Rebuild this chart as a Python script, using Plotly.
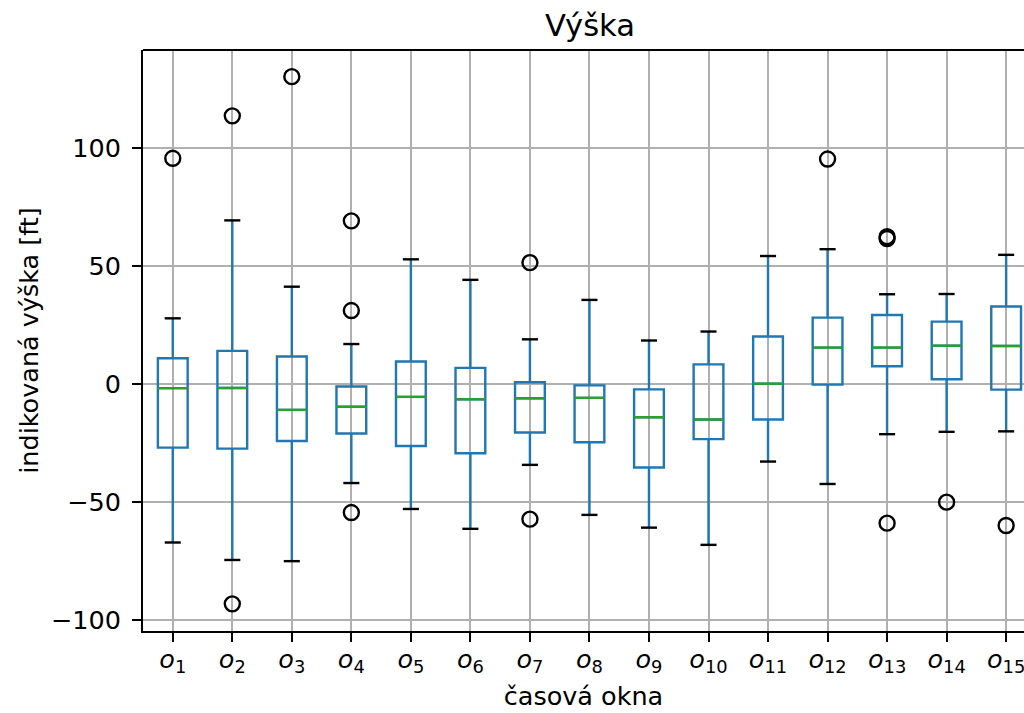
import plotly.graph_objects as go

# ---- data ----
windows = ["o1", "o2", "o3", "o4", "o5", "o6", "o7", "o8", "o9", "o10", "o11", "o12", "o13", "o14", "o15"]
tick_labels = ["<i>o</i><sub>%d</sub>" % i for i in range(1, 16)]
q1 = [-27.0, -27.4, -24.2, -21.0, -26.3, -29.4, -20.6, -24.7, -35.4, -23.4, -15.1, -0.3, 7.5, 2.0, -2.4]
median = [-1.8, -1.7, -11.0, -9.7, -5.5, -6.5, -6.1, -5.9, -14.1, -15.1, 0.1, 15.4, 15.4, 16.2, 16.1]
q3 = [10.9, 14.0, 11.6, -1.1, 9.5, 6.8, 0.7, -0.6, -2.3, 8.3, 20.1, 28.1, 29.2, 26.4, 32.8]
lower_whisker = [-67.2, -74.6, -75.1, -42.0, -53.0, -61.4, -34.3, -55.5, -60.9, -68.2, -32.9, -42.4, -21.3, -20.3, -20.1]
upper_whisker = [27.8, 69.3, 41.2, 16.9, 52.8, 44.1, 18.9, 35.6, 18.4, 22.2, 54.2, 57.1, 38.0, 38.1, 54.7]
outliers = {
    "o1": [95.6],
    "o2": [113.6, -93.2],
    "o3": [130.2],
    "o4": [69.1, 31.1, -54.5],
    "o7": [51.4, -57.3],
    "o12": [95.3],
    "o13": [61.6, 62.4, -59.0],
    "o14": [-50.1],
    "o15": [-60.0],
}
y_ticks = [-100, -50, 0, 50, 100]
y_tick_labels = ["\u2212100", "\u221250", "0", "50", "100"]

BLUE = "#1f77b4"
GREEN = "#2ca02c"
BOX_W = 0.5
CAP_W = 0.27
LW = 2.4

pos = list(range(1, len(windows) + 1))

fig = go.Figure()

fig.add_trace(go.Box(
    x=pos, q1=q1, median=median, q3=q3,
    lowerfence=lower_whisker, upperfence=upper_whisker,
    width=BOX_W, whiskerwidth=0,
    fillcolor="rgba(0,0,0,0)",
    line=dict(color=BLUE, width=LW),
    boxpoints=False, showlegend=False, hoverinfo="skip",
))

# medians (green)
mx, my = [], []
for p, m in zip(pos, median):
    mx += [p - BOX_W / 2, p + BOX_W / 2, None]
    my += [m, m, None]
fig.add_trace(go.Scatter(x=mx, y=my, mode="lines", line=dict(color=GREEN, width=LW),
                         showlegend=False, hoverinfo="skip"))

# caps (black)
cx, cy = [], []
for p, lo, hi in zip(pos, lower_whisker, upper_whisker):
    for v in (lo, hi):
        cx += [p - CAP_W / 2, p + CAP_W / 2, None]
        cy += [v, v, None]
fig.add_trace(go.Scatter(x=cx, y=cy, mode="lines", line=dict(color="black", width=LW),
                         showlegend=False, hoverinfo="skip"))

# outliers
ox, oy = [], []
for name, vals in outliers.items():
    p = windows.index(name) + 1
    for v in vals:
        ox.append(p)
        oy.append(v)
fig.add_trace(go.Scatter(x=ox, y=oy, mode="markers",
                         marker=dict(symbol="circle-open", size=15, color="black",
                                     line=dict(width=2.4, color="black")),
                         showlegend=False, hoverinfo="skip"))

FONT = "DejaVu Sans"
FS = 25.5
fig.update_layout(
    width=1024, height=713,
    margin=dict(l=143, r=0, t=50, b=82),
    paper_bgcolor="white", plot_bgcolor="white",
    font=dict(family=FONT, size=FS, color="black"),
    title=dict(text="Výška", x=590 / 1024, xanchor="center", xref="container",
               y=1 - 25 / 713, yanchor="middle", yref="container", font=dict(size=30.6)),
)
fig.update_xaxes(
    range=[0.5, 15.3], tickmode="array", tickvals=pos, ticktext=tick_labels,
    showgrid=True, gridcolor="#b0b0b0", gridwidth=2,
    showline=True, linecolor="black", linewidth=2, mirror=False,
    ticks="outside", ticklen=9, tickwidth=2, tickcolor="black",
    zeroline=False, ticklabelstandoff=-5, ticklabeloverflow="allow",
    title=dict(text="časová okna", standoff=11, font=dict(size=FS)),
)
fig.update_yaxes(
    range=[-104.7, 141.5], tickmode="array", tickvals=y_ticks, ticktext=y_tick_labels,
    showgrid=True, gridcolor="#b0b0b0", gridwidth=2,
    showline=True, linecolor="black", linewidth=2,
    ticks="outside", ticklen=9, tickwidth=2, tickcolor="black",
    zeroline=False, ticklabelstandoff=6,
    title=dict(text="indikovaná výška [ft]", standoff=5, font=dict(size=FS)),
)
# top spine
fig.add_shape(type="line", xref="paper", yref="paper", x0=0, x1=1, y0=1, y1=1,
              line=dict(color="black", width=2))

fig.write_html("out.html")
